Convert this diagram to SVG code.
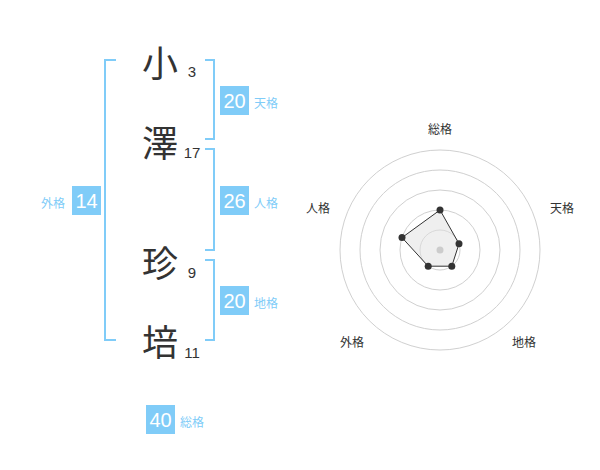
<svg xmlns="http://www.w3.org/2000/svg" width="600" height="470" viewBox="0 0 600 470">
<style>
.ch{font-family:"Noto Sans CJK JP","Noto Sans CJK SC",sans-serif;font-size:36px;fill:#333;text-anchor:middle}
.num{font-family:"Liberation Sans",Arial,sans-serif;font-size:15px;fill:#333;text-anchor:middle}
.br{fill:none;stroke:#80ccf8;stroke-width:2}
.box{fill:#80ccf8}
.bn{font-family:"Liberation Sans",Arial,sans-serif;font-size:20px;fill:#fff;text-anchor:middle}
.lb{font-family:"Noto Sans CJK JP","Noto Sans CJK SC",sans-serif;font-size:12px;fill:#80ccf8}
.ring{fill:none;stroke:#d0d0d0;stroke-width:1}
.rl{font-family:"Noto Sans CJK JP","Noto Sans CJK SC",sans-serif;font-size:12px;fill:#333;text-anchor:middle}
.pt{fill:#333}
</style>
<g id="chars">
<g id="c1"><text class="ch" x="160" y="77">小</text><text class="num" x="192" y="77">3</text></g>
<g id="c2"><text class="ch" x="160" y="157">澤</text><text class="num" x="192" y="158">17</text></g>
<g id="c3"><text class="ch" x="160" y="277">珍</text><text class="num" x="192" y="278">9</text></g>
<g id="c4"><text class="ch" x="160" y="356">培</text><text class="num" x="192" y="358">11</text></g>
</g>
<g id="connectors">
<path class="br" d="M116,60 H105 V340 H116"/>
<path class="br" d="M205,60 H214 V139 H205"/>
<path class="br" d="M205,149 H214 V250 H205"/>
<path class="br" d="M205,260 H214 V340 H205"/>
</g>
<g id="tenkaku"><rect class="box" x="220" y="86" width="29" height="29"/><text class="bn" x="234.5" y="107.5">20</text><text class="lb" x="254" y="108">天格</text></g>
<g id="jinkaku"><rect class="box" x="220" y="186" width="29" height="29"/><text class="bn" x="234.5" y="207.5">26</text><text class="lb" x="254" y="208">人格</text></g>
<g id="chikaku"><rect class="box" x="220" y="286" width="29" height="29"/><text class="bn" x="234.5" y="307.5">20</text><text class="lb" x="254" y="308">地格</text></g>
<g id="gaikaku"><rect class="box" x="72" y="186" width="29" height="29"/><text class="bn" x="86.5" y="207.5">14</text><text class="lb" x="41" y="208">外格</text></g>
<g id="soukaku"><rect class="box" x="146" y="405" width="29" height="29"/><text class="bn" x="160.5" y="426.5">40</text><text class="lb" x="180" y="427">総格</text></g>
<g id="radar">
<circle class="ring" cx="440" cy="250" r="20"/>
<circle class="ring" cx="440" cy="250" r="40"/>
<circle class="ring" cx="440" cy="250" r="60"/>
<circle class="ring" cx="440" cy="250" r="80"/>
<circle class="ring" cx="440" cy="250" r="100"/>
<polygon points="440,210 459,243.8 451.8,266.2 428.2,266.2 402,237.6" fill="#e0e0e0" fill-opacity="0.5" stroke="#333" stroke-width="1"/>
<circle cx="440" cy="250" r="3.5" fill="#ccc"/>
<circle class="pt" cx="440" cy="210" r="3.5"/>
<circle class="pt" cx="459" cy="243.8" r="3.5"/>
<circle class="pt" cx="451.8" cy="266.2" r="3.5"/>
<circle class="pt" cx="428.2" cy="266.2" r="3.5"/>
<circle class="pt" cx="402" cy="237.6" r="3.5"/>
<text class="rl" x="440" y="134">総格</text>
<text class="rl" x="562" y="213">天格</text>
<text class="rl" x="524" y="347">地格</text>
<text class="rl" x="352" y="347">外格</text>
<text class="rl" x="318" y="213">人格</text>
</g>
</svg>
